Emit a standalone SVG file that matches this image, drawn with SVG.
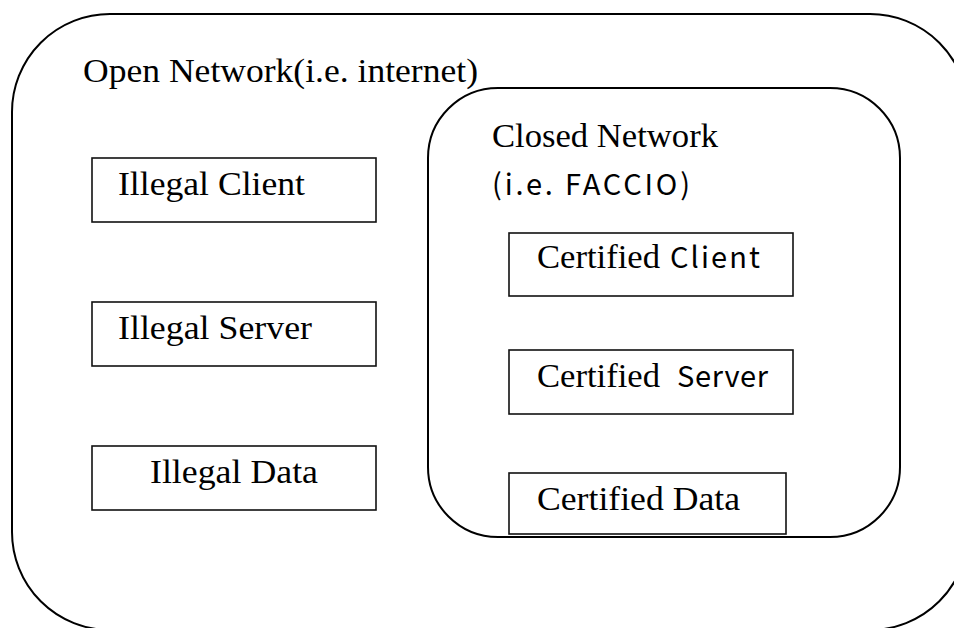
<svg xmlns="http://www.w3.org/2000/svg" width="954" height="628" viewBox="0 0 954 628">
<style>
.area{fill:none;stroke:#000;stroke-width:2}
.box{fill:#fff;stroke:#111;stroke-width:1.6}
.serif{font-family:"Liberation Serif","Times New Roman",serif;font-size:34px;fill:#000}
.goth{font-family:"Noto Sans CJK JP","DejaVu Sans",sans-serif;font-size:29px;fill:#000}
</style>
<rect width="954" height="628" fill="#fff"/>
<g id="open-network">
<rect class="area" x="12" y="14" width="956" height="616" rx="98" ry="98"/>
<text class="serif" x="83" y="82" textLength="395" lengthAdjust="spacingAndGlyphs">Open Network(i.e. internet)</text>
</g>
<g id="closed-network">
<rect class="area" x="428" y="88" width="472" height="449" rx="70" ry="70"/>
<text class="serif" x="492" y="147" textLength="226" lengthAdjust="spacingAndGlyphs">Closed Network</text>
<text class="goth" x="492" y="195" textLength="198" lengthAdjust="spacing">(i.e. FACCIO)</text>
</g>
<g id="illegal-client">
<rect class="box" x="92" y="158" width="284" height="64"/>
<text class="serif" x="118" y="195" textLength="187" lengthAdjust="spacingAndGlyphs">Illegal Client</text>
</g>
<g id="illegal-server">
<rect class="box" x="92" y="302" width="284" height="64"/>
<text class="serif" x="118" y="339" textLength="194" lengthAdjust="spacingAndGlyphs">Illegal Server</text>
</g>
<g id="illegal-data">
<rect class="box" x="92" y="446" width="284" height="64"/>
<text class="serif" x="150" y="483" textLength="168" lengthAdjust="spacingAndGlyphs">Illegal Data</text>
</g>
<g id="certified-client">
<rect class="box" x="509" y="233" width="284" height="63"/>
<text class="serif" x="537" y="268" textLength="123" lengthAdjust="spacingAndGlyphs">Certified</text>
<text class="goth" x="670" y="268" textLength="90" lengthAdjust="spacing">Client</text>
</g>
<g id="certified-server">
<rect class="box" x="509" y="350" width="284" height="64"/>
<text class="serif" x="537" y="387" textLength="123" lengthAdjust="spacingAndGlyphs">Certified</text>
<text class="goth" x="677" y="387" textLength="91" lengthAdjust="spacing">Server</text>
</g>
<g id="certified-data">
<rect class="box" x="509" y="473" width="277" height="61"/>
<text class="serif" x="537" y="510" textLength="203" lengthAdjust="spacingAndGlyphs">Certified Data</text>
</g>
<g id="connectors"></g>
</svg>
